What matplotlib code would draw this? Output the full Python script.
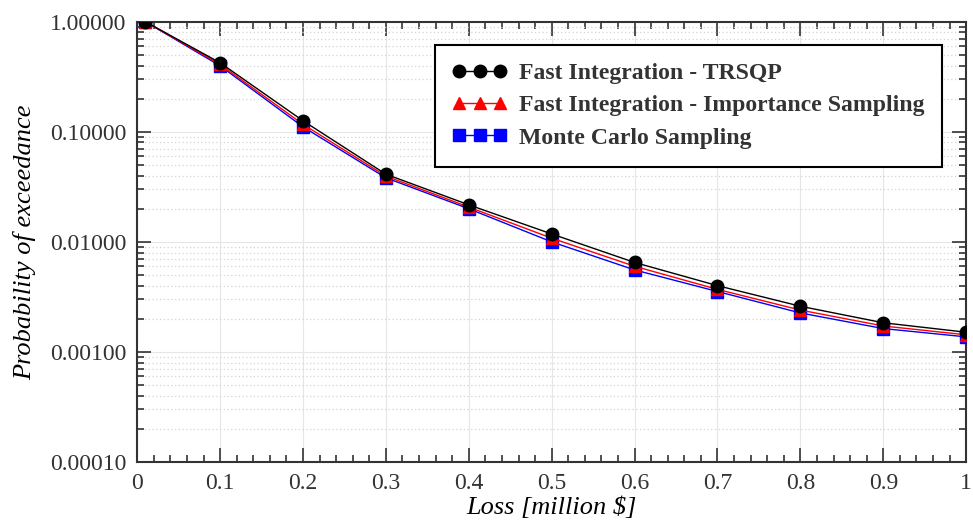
import numpy as np
import matplotlib
matplotlib.use("Agg")
import matplotlib.pyplot as plt
from matplotlib.ticker import FixedLocator, LogLocator, NullFormatter, MultipleLocator

plt.rcParams['font.family'] = ['Liberation Serif', 'DejaVu Serif']
plt.rcParams['mathtext.fontset'] = 'stix'

# loss in million $
loss = [0.01, 0.1, 0.2, 0.3, 0.4, 0.5, 0.6, 0.7, 0.8, 0.9, 1.0]
# probability of exceedance
p_trsqp = [1.0, 0.424, 0.126, 0.0412, 0.0217, 0.0118, 0.0065, 0.0040, 0.0026, 0.00184, 0.00151]
p_is = [1.0, 0.410, 0.117, 0.0396, 0.0207, 0.0108, 0.0060, 0.0037, 0.0024, 0.00172, 0.00143]
p_mc = [1.0, 0.398, 0.111, 0.0382, 0.0200, 0.0100, 0.00556, 0.00354, 0.00226, 0.00163, 0.00137]

y_ticks = [1e-4, 1e-3, 1e-2, 1e-1, 1.0]
y_ticklabels = ["0.00010", "0.00100", "0.01000", "0.10000", "1.00000"]
x_ticks = [0, 0.1, 0.2, 0.3, 0.4, 0.5, 0.6, 0.7, 0.8, 0.9, 1]
x_ticklabels = ["0", "0.1", "0.2", "0.3", "0.4", "0.5", "0.6", "0.7", "0.8", "0.9", "1"]

fig = plt.figure(figsize=(9.73, 5.31), dpi=100)
ax = fig.add_axes([0.141, 0.130, 0.852, 0.829])

ax.plot(loss, p_trsqp, color="black", lw=1.0, marker="o", ms=9,
        label="Fast Integration - TRSQP", zorder=5)
ax.plot(loss, p_is, color="red", lw=1.0, marker="^", ms=8,
        label="Fast Integration - Importance Sampling", zorder=4)
ax.plot(loss, p_mc, color="blue", lw=1.0, marker="s", ms=9,
        label="Monte Carlo Sampling", zorder=3)

ax.set_yscale("log")
ax.set_ylim(1e-4, 1.0)
ax.set_xlim(0, 1)
ax.yaxis.set_major_locator(FixedLocator(y_ticks))
ax.set_yticklabels(y_ticklabels)
ax.yaxis.set_minor_locator(LogLocator(base=10, subs=np.arange(2, 10)))
ax.yaxis.set_minor_formatter(NullFormatter())
ax.set_xticks(x_ticks)
ax.set_xticklabels(x_ticklabels)
ax.xaxis.set_minor_locator(MultipleLocator(0.02))

ax.tick_params(which="both", direction="in", top=True, right=True,
               labelsize=17, colors="#333333", width=1.2)
ax.tick_params(which="major", length=10, pad=8)
ax.tick_params(which="minor", length=5)
for sp in ax.spines.values():
    sp.set_linewidth(1.5)
    sp.set_color("#333333")

ax.grid(True, which="major", color="#e6e6e6", lw=0.8, ls="-")
ax.grid(True, which="minor", axis="y", color="#d4d4d4", lw=0.9, ls=(0, (1, 2)))
ax.set_axisbelow(True)

ax.set_xlabel("Loss [million $]", fontsize=19, style="italic", labelpad=2)
ax.set_ylabel("Probability of exceedance", fontsize=19, style="italic", labelpad=10)

leg = ax.legend(loc="upper right", bbox_to_anchor=(0.971, 0.948), borderaxespad=0,
                fancybox=False, edgecolor="black", framealpha=1, numpoints=3,
                handlelength=2.3, handletextpad=0.5, borderpad=0.75, labelspacing=0.45,
                prop={"family": "Liberation Serif", "weight": "bold", "size": 17.1})
leg.get_frame().set_linewidth(1.5)
for t in leg.get_texts():
    t.set_color("#333333")

fig.savefig("out.png", dpi=100)
